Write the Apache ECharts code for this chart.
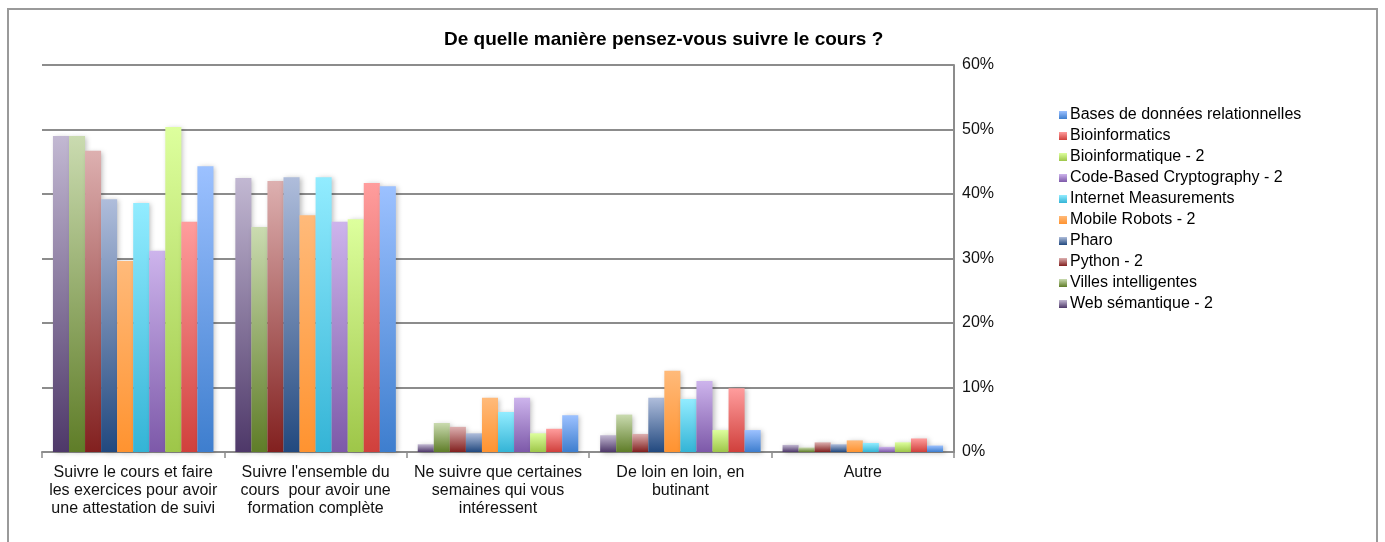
<!DOCTYPE html>
<html>
<head>
<meta charset="utf-8">
<script src="https://cdn.jsdelivr.net/npm/echarts@6/dist/echarts.min.js"></script>
<style>
html,body{margin:0;padding:0;background:#fff;}
#chart{width:1385px;height:542px;}
</style>
</head>
<body>
<div id="chart"></div>
<script>
const categories = [
  "Suivre le cours et faire\nles exercices pour avoir\nune attestation de suivi",
  "Suivre l'ensemble du\ncours  pour avoir une\nformation complète",
  "Ne suivre que certaines\nsemaines qui vous\nintéressent",
  "De loin en loin, en\nbutinant",
  "Autre"
];
const yTicks = [0, 0.1, 0.2, 0.3, 0.4, 0.5, 0.6];

const webSemantique2 = [0.490, 0.425, 0.012, 0.026, 0.011];
const villesIntelligentes = [0.490, 0.349, 0.045, 0.058, 0.007];
const python2 = [0.467, 0.420, 0.039, 0.028, 0.015];
const pharo = [0.392, 0.426, 0.029, 0.084, 0.012];
const mobileRobots2 = [0.296, 0.367, 0.084, 0.126, 0.018];
const internetMeasurements = [0.386, 0.426, 0.062, 0.082, 0.014];
const codeBasedCrypto2 = [0.312, 0.357, 0.084, 0.110, 0.008];
const bioinformatique2 = [0.504, 0.361, 0.029, 0.034, 0.015];
const bioinformatics = [0.357, 0.417, 0.036, 0.099, 0.021];
const basesDeDonnees = [0.443, 0.412, 0.057, 0.034, 0.010];

const seriesDefs = [
  ["Web sémantique - 2", webSemantique2, "#c2b8d2", "#4e3869"],
  ["Villes intelligentes", villesIntelligentes, "#cadbb0", "#5f7d28"],
  ["Python - 2", python2, "#ddb0b0", "#82201f"],
  ["Pharo", pharo, "#afbddb", "#22497f"],
  ["Mobile Robots - 2", mobileRobots2, "#ffba7a", "#ff9330"],
  ["Internet Measurements", internetMeasurements, "#92ecff", "#34b4d6"],
  ["Code-Based Cryptography - 2", codeBasedCrypto2, "#cdb4ec", "#7d59a9"],
  ["Bioinformatique - 2", bioinformatique2, "#ddff9d", "#9ec649"],
  ["Bioinformatics", bioinformatics, "#ff9d9d", "#d0403c"],
  ["Bases de données relationnelles", basesDeDonnees, "#9cc1ff", "#3e7ece"]
];

const FONT = "'Liberation Sans', Arial, sans-serif";

const chart = echarts.init(document.getElementById('chart'), null, {renderer: 'canvas'});

const series = seriesDefs.map(d => ({
  name: d[0],
  type: 'bar',
  data: d[1],
  barGap: '0%',
  barCategoryGap: '12%',
  itemStyle: {
    color: new echarts.graphic.LinearGradient(0, 0, 0, 1, [
      {offset: 0, color: d[2]},
      {offset: 1, color: d[3]}
    ]),
    shadowColor: 'rgba(0,0,0,0.25)',
    shadowBlur: 5,
    shadowOffsetX: 2,
    shadowOffsetY: 1
  },
  emphasis: {disabled: true}
}));

chart.setOption({
  animation: false,
  backgroundColor: '#ffffff',
  title: {
    text: 'De quelle manière pensez-vous suivre le cours ?',
    left: 439,
    top: 25,
    textStyle: {fontFamily: FONT, fontSize: 19, fontWeight: 'bold', color: '#000'}
  },
  graphic: [{
    type: 'rect',
    shape: {x: 8, y: 9, width: 1369, height: 545},
    style: {fill: 'none', stroke: '#9a9a9a', lineWidth: 2},
    silent: true,
    z: -1
  }],
  legend: {
    orient: 'vertical',
    left: 1054,
    top: 102,
    itemWidth: 8,
    itemHeight: 8,
    itemGap: 5,
    icon: 'rect',
    data: seriesDefs.map(d => d[0]).reverse(),
    textStyle: {fontFamily: FONT, fontSize: 16, color: '#000', lineHeight: 16, padding: [0, 0, 0, -2]}
  },
  grid: {left: 42, right: 431, top: 65, bottom: 90, containLabel: false},
  xAxis: {
    type: 'category',
    data: categories,
    axisLine: {show: true, lineStyle: {color: '#8c8c8c', width: 2}},
    axisTick: {show: true, length: 6, lineStyle: {color: '#8c8c8c', width: 1.5}},
    axisLabel: {
      interval: 0,
      margin: 12,
      fontFamily: FONT,
      fontSize: 16,
      lineHeight: 18,
      color: '#111'
    },
    splitLine: {show: false}
  },
  yAxis: {
    type: 'value',
    position: 'right',
    min: yTicks[0],
    max: yTicks[yTicks.length - 1],
    interval: 0.1,
    axisLine: {show: true, lineStyle: {color: '#8c8c8c', width: 2}},
    axisTick: {show: false},
    axisLabel: {
      margin: 8,
      fontFamily: FONT,
      fontSize: 16,
      color: '#111',
      formatter: v => Math.round(v * 100) + '%'
    },
    splitLine: {show: true, lineStyle: {color: '#8c8c8c', width: 2}}
  },
  series: series
});
</script>
</body>
</html>
